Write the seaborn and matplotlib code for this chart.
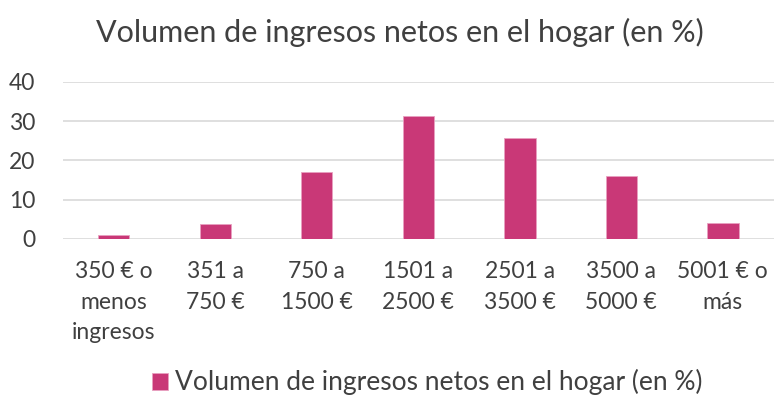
import matplotlib
matplotlib.use("Agg")
import matplotlib.pyplot as plt
import seaborn as sns
import pandas as pd

categories = ["350 € o\nmenos\ningresos", "351 a\n750 €", "750 a\n1500 €", "1501 a\n2500 €",
              "2501 a\n3500 €", "3500 a\n5000 €", "5001 € o\nmás"]
values = [1.0, 3.7, 17.1, 31.4, 25.8, 16.1, 4.1]
series_name = "Volumen de ingresos netos en el hogar (en %)"
yticks = [0, 10, 20, 30, 40]

sns.set_theme(style="white")
plt.rcParams['font.family'] = ['Lato', 'DejaVu Sans']

df = pd.DataFrame({"cat": categories, "val": values, "serie": series_name})

fig = plt.figure(figsize=(7.74, 4.05), dpi=100)
ax = fig.add_axes([0.0814, 0.41, 0.918, 0.388])
sns.barplot(data=df, x="cat", y="val", hue="serie", palette=["#C93877"],
            width=0.31, ax=ax, saturation=1, edgecolor="#E8A0C0", linewidth=0.6)
ax.set_ylim(0, 40)
ax.set_xlim(-0.5, 6.5)
ax.set_yticks(yticks)
ax.yaxis.grid(True, color="#D9D9D9", linewidth=1.2)
ax.set_axisbelow(True)
for s in ax.spines.values():
    s.set_visible(False)
ax.set_xlabel("")
ax.set_ylabel("")
ax.tick_params(axis="both", length=0, labelsize=16.5, colors="#404040")
ax.tick_params(axis="x", pad=16)
ax.tick_params(axis="y", pad=20)
for lbl in ax.get_xticklabels():
    lbl.set_linespacing(1.55)
fig.suptitle(series_name, x=0.517, y=0.955, fontsize=22, color="#404040")
ax.legend_.remove()
fig.legend(loc="lower center", bbox_to_anchor=(0.552, -0.035), frameon=False,
           fontsize=19, handlelength=0.6, handleheight=0.6, handletextpad=0.25,
           labelcolor="#404040")
fig.savefig("out.png", dpi=100)
